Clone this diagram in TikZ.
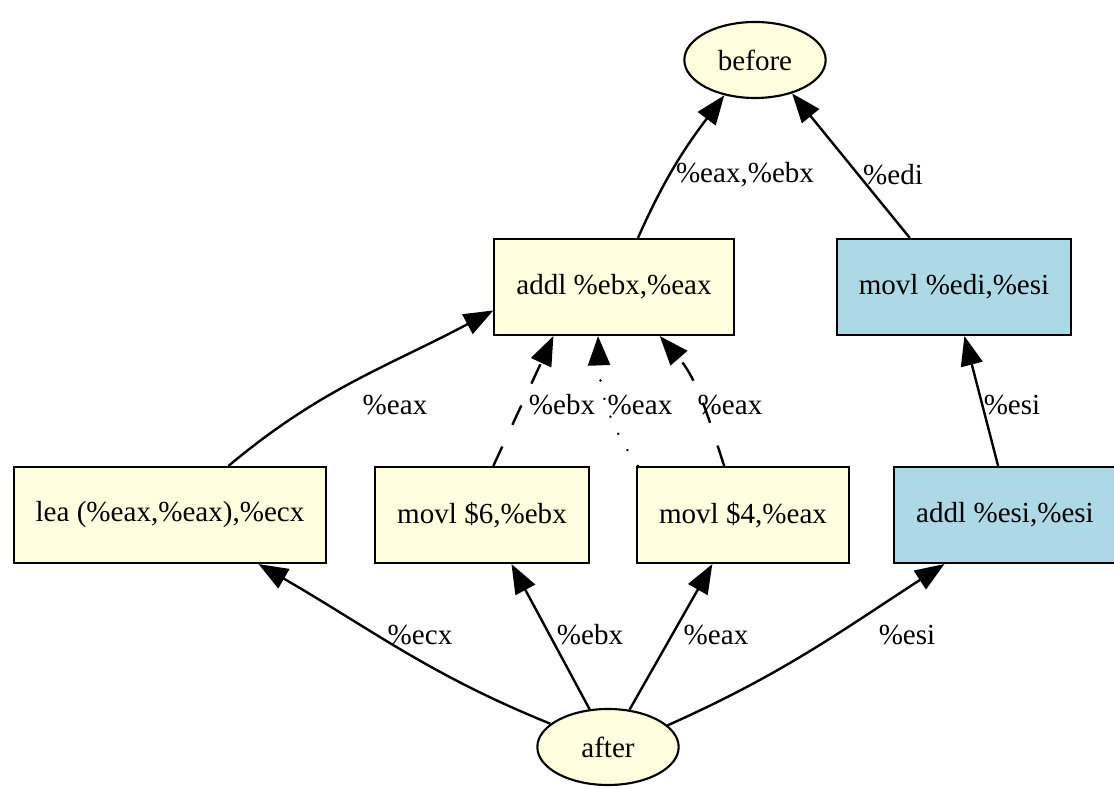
\documentclass[tikz,border=0pt]{standalone}
\usepackage{fontspec}
\setmainfont{Liberation Serif}
\usepackage{xcolor}
\usetikzlibrary{shapes.geometric,arrows.meta}
\definecolor{ylw}{HTML}{FFFFE0}
\definecolor{blu}{HTML}{ADD8E6}

\begin{document}
\begin{tikzpicture}
  [x=0.75pt,y=0.75pt,
    font=\fontsize{21.8}{26}\selectfont,
    box/.style={rectangle,draw,line width=1.6pt,fill=ylw,minimum height=72pt,inner xsep=16.5pt},
    bbox/.style={box,fill=blu},
    oval/.style={ellipse,draw,line width=1.6pt,fill=ylw,minimum width=106pt,minimum height=57pt,inner sep=0pt},
    edge/.style={line width=1.8pt,-{Triangle[length=22pt,width=16.5pt]}},
    lbl/.style={inner sep=0pt}]
  \useasboundingbox (0,0) rectangle (1114,789);

  \node[oval] (before) at (755,729) {before};
  \node[oval] (after) at (608,42) {after};
  \node[box] (addl) at (614,502) {addl \%ebx,\%eax};
  \node[bbox] (movedi) at (954,502) {movl \%edi,\%esi};
  \node[box] (lea) at (170,274) {lea (\%eax,\%eax),\%ecx};
  \node[box] (movsix) at (482,274) {movl \$6,\%ebx};
  \node[box] (movfour) at (743,274) {movl \$4,\%eax};
  \node[bbox] (addesi) at (1005,274) {addl \%esi,\%esi};

  \draw[edge] (addl.64) to[out=66,in=233] (before.229);
  \draw[edge] (movedi.132) -- (before.318);
  \draw[edge] (lea.40) to[out=40,in=208] (addl.191);
  \draw[edge,dash pattern=on 16pt off 18pt] (movsix.77) -- (addl.219);
  \draw[edge,line width=2pt,line cap=round,dash pattern=on 0.1pt off 14pt] (movfour.155) to[out=125,in=272] (addl.252);
  \draw[edge,dash pattern=on 16pt off 18pt] (movfour.111) to[out=108,in=311] (addl.313);
  \draw[edge] (addesi.98) -- (movedi.282);
  \draw[edge] (after.158) to[out=158,in=-30] (lea.331);
  \draw[edge] (after.116) -- (movsix.301);
  \draw[edge] (after.60) -- (movfour.238);
  \draw[edge] (after.20) to[out=24,in=213] (addesi.219);

  \node[lbl] (l1) at (745,614) {\%eax,\%ebx};
  \node[lbl] (l2) at (893,614) {\%edi};
  \node[lbl] (l3) at (395,384) {\%eax};
  \node[lbl] (l4) at (562,384) {\%ebx};
  \node[lbl] (l5) at (640,384) {\%eax};
  \node[lbl] (l6) at (730,384) {\%eax};
  \node[lbl] (l7) at (1012,384) {\%esi};
  \node[lbl] (l8) at (420,154) {\%ecx};
  \node[lbl] (l9) at (590,154) {\%ebx};
  \node[lbl] (l10) at (716,154) {\%eax};
  \node[lbl] (l11) at (907,154) {\%esi};
\end{tikzpicture}
\end{document}
